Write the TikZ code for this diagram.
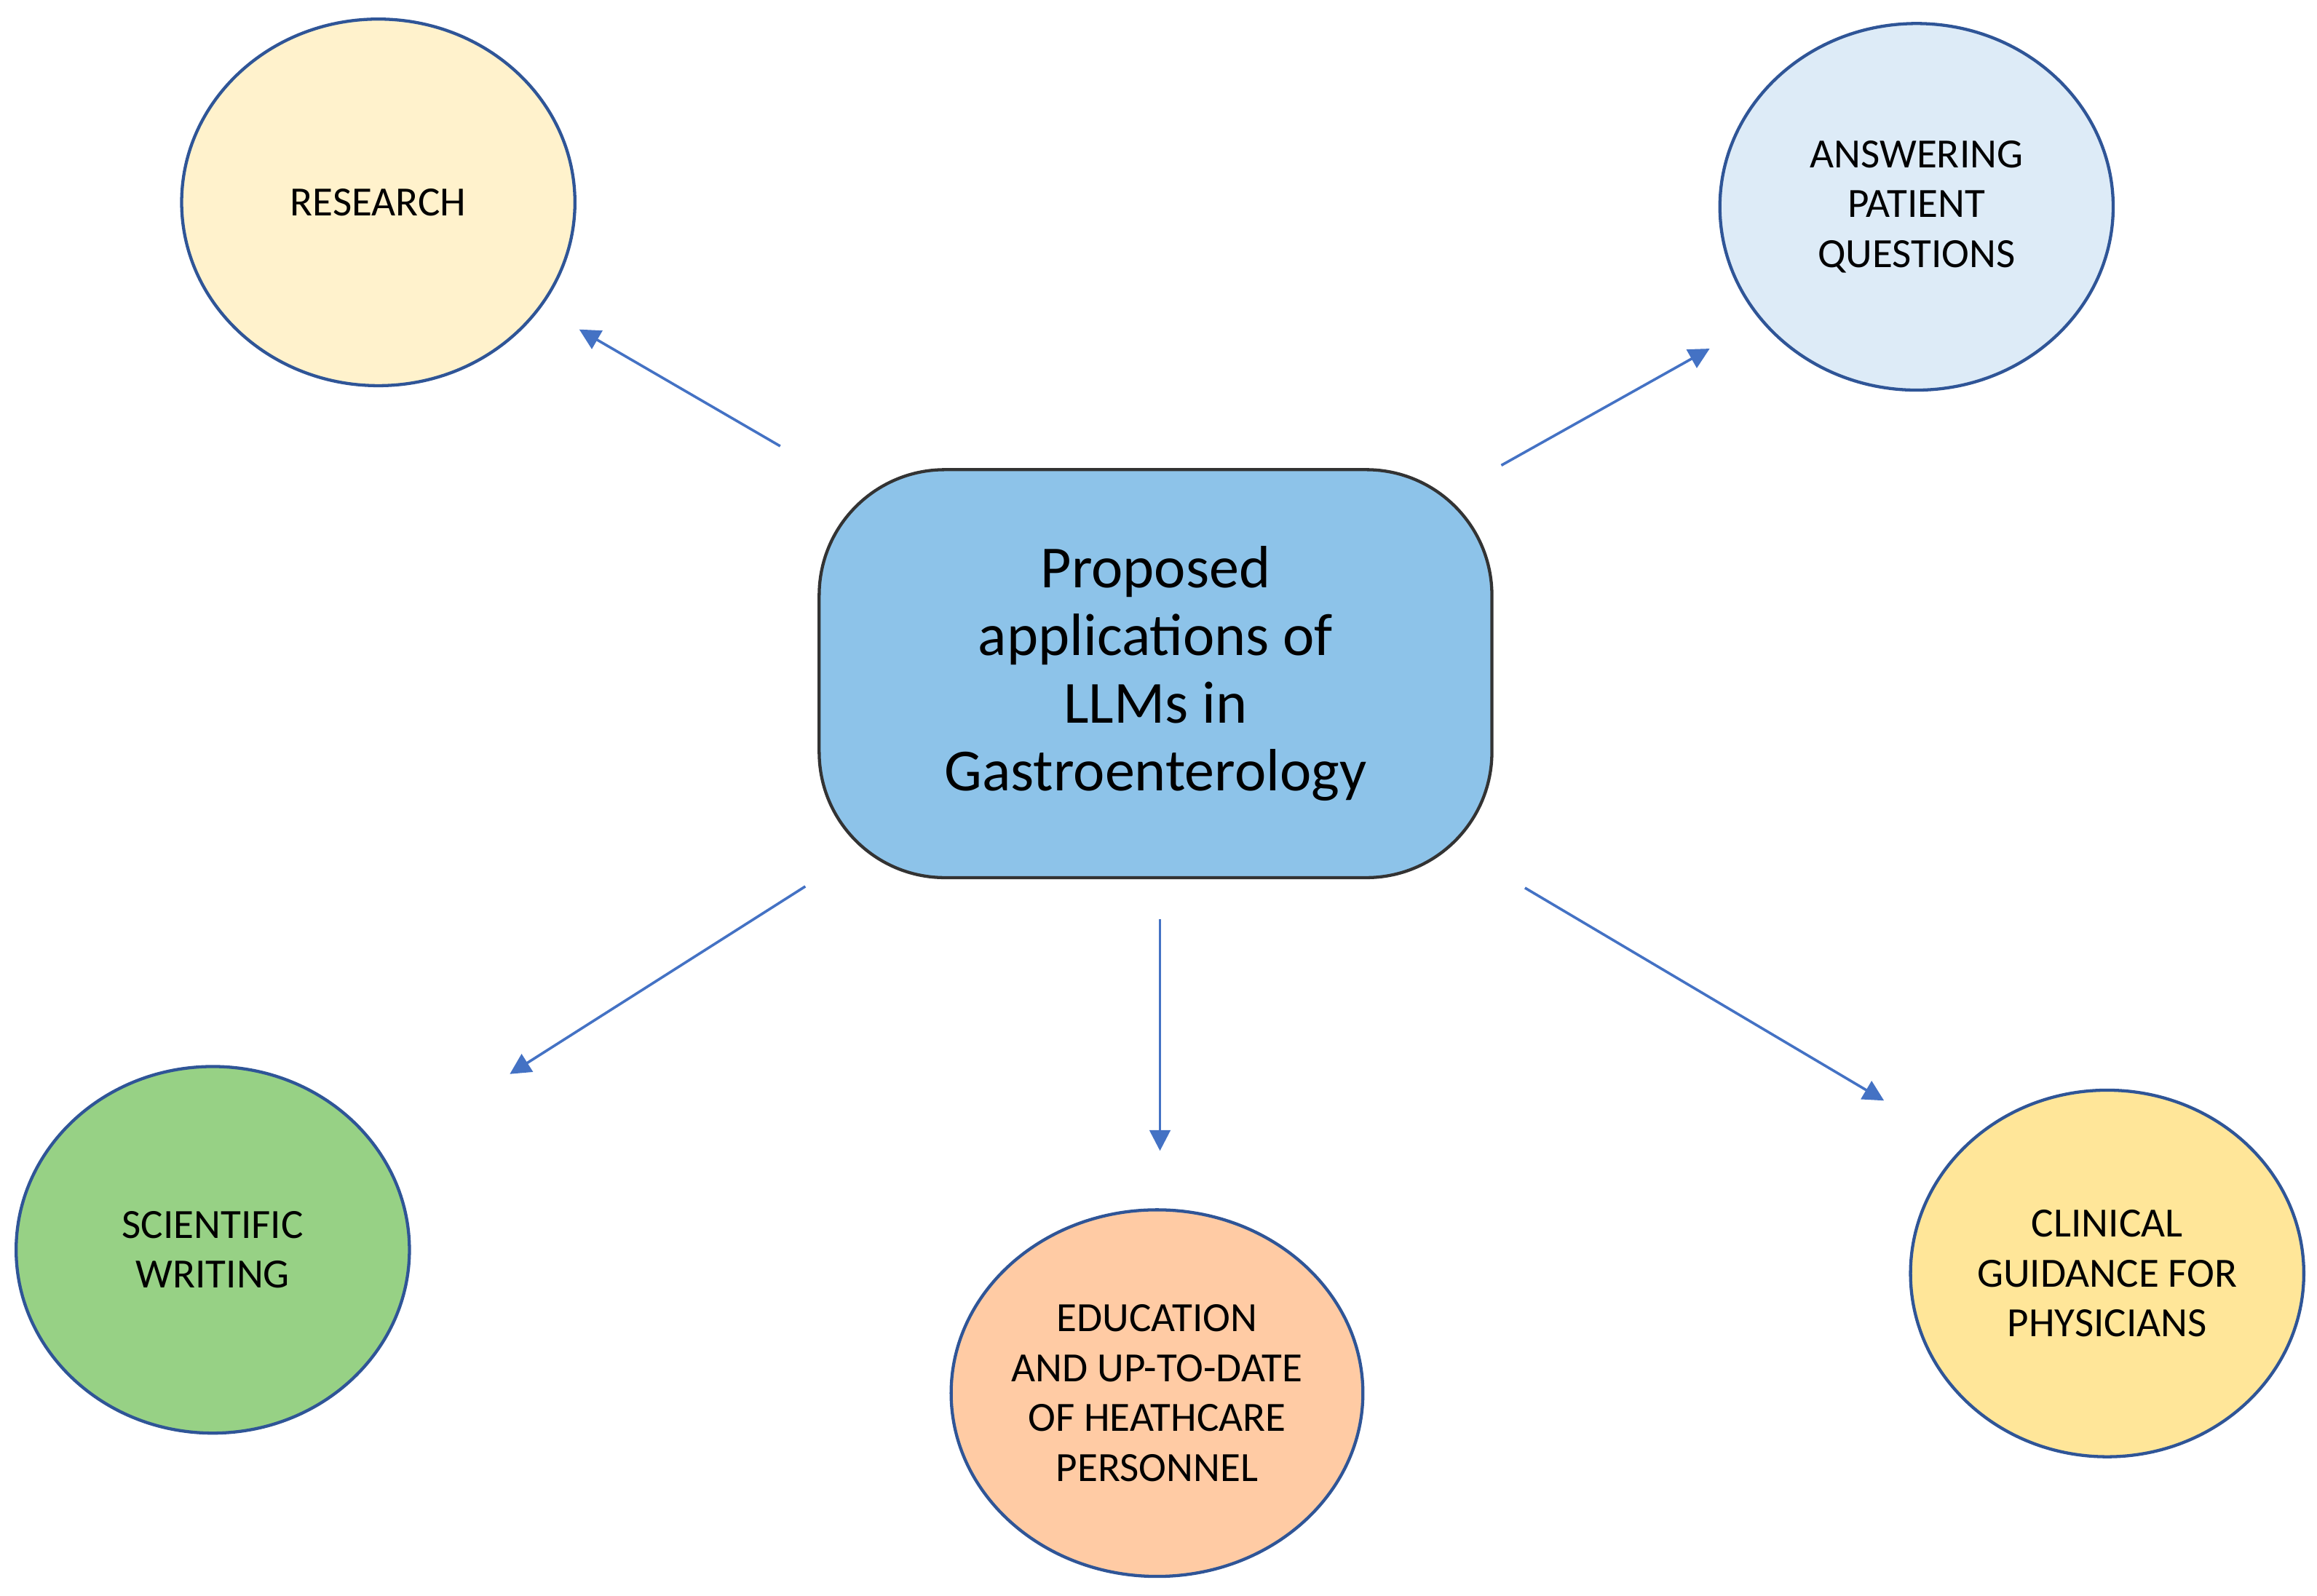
\documentclass[tikz,border=0pt]{standalone}
\usepackage{fontspec}
\setmainfont{Carlito}
\usetikzlibrary{shapes.geometric,arrows.meta}
\definecolor{edge}{HTML}{2F5597}
\definecolor{arr}{HTML}{4472C4}
\definecolor{cfill}{HTML}{8DC3E9}
\definecolor{rfill}{HTML}{FFF2CC}
\definecolor{afill}{HTML}{DDEBF7}
\definecolor{sfill}{HTML}{97D185}
\definecolor{efill}{HTML}{FFCBA4}
\definecolor{kfill}{HTML}{FFE699}
\tikzset{
  bub/.style={ellipse,draw=edge,line width=0.6pt,minimum width=2.66cm,minimum height=2.48cm,align=center,font=\fontsize{8}{9.6}\selectfont,inner sep=0pt},
  con/.style={draw=arr,line width=0.5pt,-{Triangle[length=4pt,width=4pt]}}
}
\begin{document}
\begin{tikzpicture}[x=0.01cm,y=-0.01cm]
\useasboundingbox (0,0) rectangle (1568,1080);
\node[draw=black!80,line width=0.6pt,fill=cfill,rounded corners=0.85cm,minimum width=4.55cm,minimum height=2.76cm,align=center,font=\fontsize{11.5}{13}\selectfont] (c) at (782,456) {Proposed\\applications of\\LLMs in\\Gastroenterology};
\node[bub,fill=rfill] (r) at (256,137) {RESEARCH};
\node[bub,fill=afill] (a) at (1297,140) {ANSWERING\\PATIENT\\QUESTIONS};
\node[bub,fill=sfill] (s) at (144,846) {SCIENTIFIC\\WRITING};
\node[bub,fill=efill] (e) at (783,943) {EDUCATION\\AND UP-TO-DATE\\OF HEATHCARE\\PERSONNEL};
\node[bub,fill=kfill] (k) at (1426,862) {CLINICAL\\GUIDANCE FOR\\PHYSICIANS};
\coordinate (r0) at (528,302); \coordinate (r1) at (392,223);
\coordinate (a0) at (1016,315); \coordinate (a1) at (1157,236);
\coordinate (s0) at (545,600); \coordinate (s1) at (345,727);
\coordinate (e0) at (785,622); \coordinate (e1) at (785,779);
\coordinate (k0) at (1032,601); \coordinate (k1) at (1275,745);
\draw[con] (r0) -- (r1);
\draw[con] (a0) -- (a1);
\draw[con] (s0) -- (s1);
\draw[con] (e0) -- (e1);
\draw[con] (k0) -- (k1);
\end{tikzpicture}
\end{document}
